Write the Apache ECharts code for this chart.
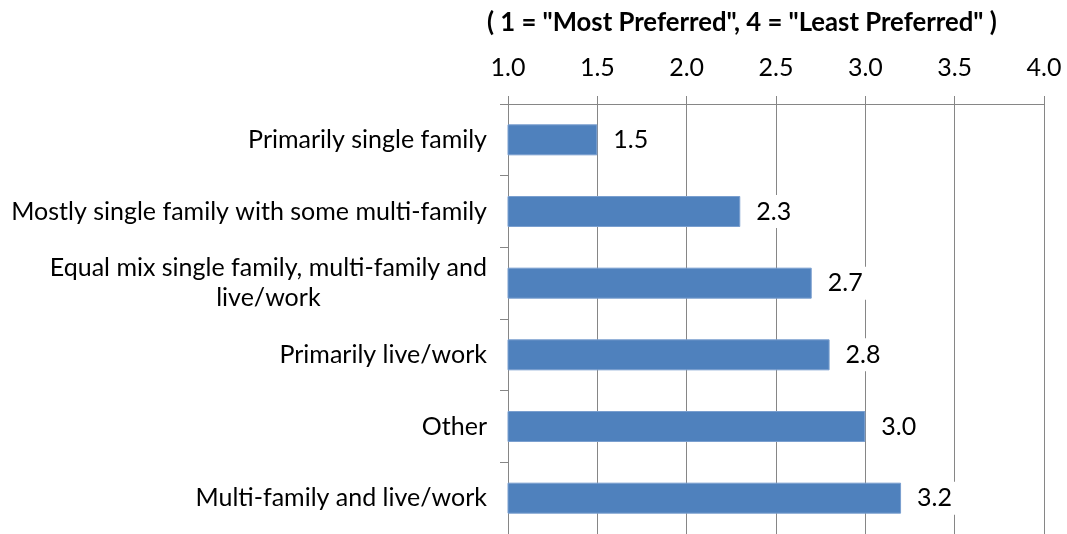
<!DOCTYPE html>
<html>
<head>
<meta charset="utf-8">
<script src="https://cdn.jsdelivr.net/npm/echarts@6/dist/echarts.min.js"></script>
<style>
  html, body { margin: 0; padding: 0; background: #fff; }
  #chart { width: 1067px; height: 534px; }
</style>
</head>
<body>
<div id="chart"></div>
<script>
// Housing mix preference, mean rank (1 = most preferred)
const categories = [
  'Primarily single family',
  'Mostly single family with some multi-family',
  'Equal mix single family, multi-family and\nlive/work',
  'Primarily live/work',
  'Other',
  'Multi-family and live/work'
];
const meanRank = [1.5, 2.3, 2.7, 2.8, 3.0, 3.2];
const axisTicks = ['1.0', '1.5', '2.0', '2.5', '3.0', '3.5', '4.0'];
const scaleTitle = '( 1 = "Most Preferred", 4 = "Least Preferred" )';

const FONT = 'Lato, "Open Sans", sans-serif';
const FS = 25;
const GRAY = '#868686';

const chart = echarts.init(document.getElementById('chart'), null, { renderer: 'canvas' });

chart.setOption({
  animation: false,
  title: {
    text: scaleTitle,
    left: 482,
    top: 5,
    textStyle: { fontFamily: FONT, fontSize: 25.7, fontWeight: 'bold', color: '#000' }
  },
  grid: { left: 508, right: 23, top: 104, bottom: 0, containLabel: false },
  xAxis: {
    type: 'value',
    position: 'top',
    min: 1,
    max: 4,
    interval: 0.5,
    axisLine: { show: true, lineStyle: { color: GRAY, width: 1 } },
    axisTick: { show: true, inside: false, length: 8, lineStyle: { color: GRAY } },
    splitLine: { show: true, lineStyle: { color: GRAY, width: 1 } },
    axisLabel: {
      margin: 24,
      fontFamily: FONT, fontSize: FS, color: '#000',
      formatter: function (v) {
        const i = Math.round((v - 1) / 0.5);
        return axisTicks[i] !== undefined ? axisTicks[i] : v.toFixed(1);
      }
    }
  },
  yAxis: {
    type: 'category',
    inverse: true,
    data: categories,
    axisLine: { show: true, lineStyle: { color: GRAY, width: 1 } },
    axisTick: { show: true, inside: false, length: 8, alignWithLabel: false, lineStyle: { color: GRAY } },
    splitLine: { show: false },
    axisLabel: {
      margin: 21,
      fontFamily: FONT, fontSize: FS, color: '#000', lineHeight: 30,
      // wrapped labels: each line centred under the longest one
      formatter: function (v) {
        if (v.indexOf('\n') < 0) return v;
        return v.split('\n').map(function (l) { return '{c|' + l + '}'; }).join('\n');
      },
      rich: {
        c: {
          fontFamily: FONT, fontSize: FS, color: '#000', lineHeight: 30,
          align: 'center'
        }
      }
    }
  },
  series: [{
    type: 'bar',
    data: meanRank,
    barWidth: 31,
    itemStyle: { color: '#4F81BD', borderColor: '#7A9FCF', borderWidth: 1 },
    label: {
      show: true,
      position: 'right',
      distance: 10,
      formatter: function (p) { return p.value.toFixed(1); },
      fontFamily: FONT, fontSize: FS, color: '#000',
      backgroundColor: '#fff',
      padding: [4, 6]
    }
  }]
});
</script>
</body>
</html>
